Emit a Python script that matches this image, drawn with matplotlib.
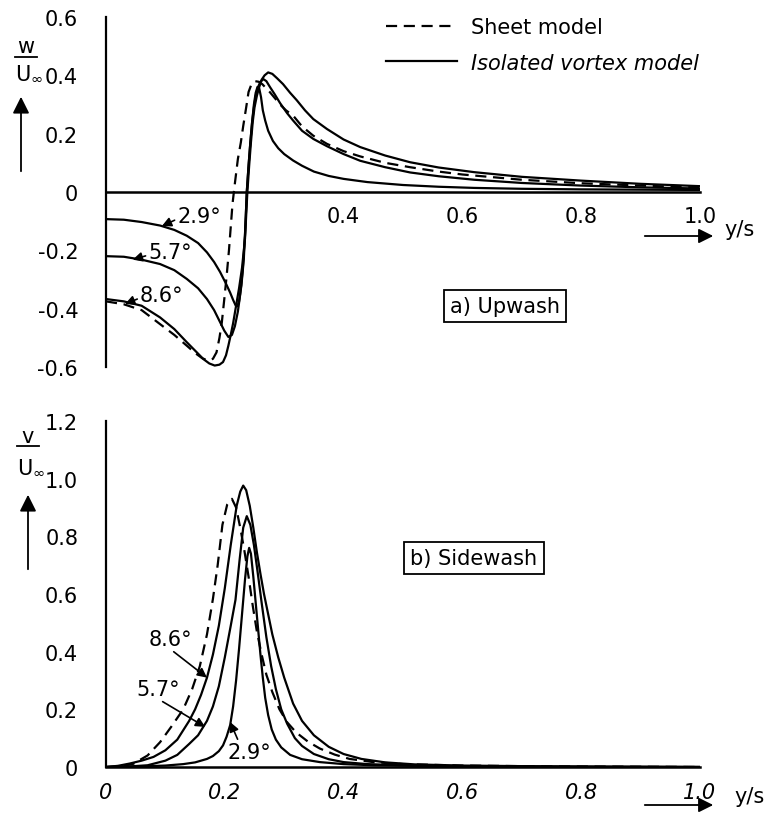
import matplotlib
matplotlib.use("Agg")
import matplotlib.pyplot as plt
from matplotlib.lines import Line2D

# ---- a) Upwash  w/U_inf vs y/s ----
up_x_29 = [0, 0.03, 0.06, 0.091, 0.115, 0.136, 0.155, 0.17, 0.182, 0.192, 0.201, 0.209, 0.214,
           0.218, 0.221, 0.224, 0.228, 0.232, 0.235, 0.237, 0.24, 0.243, 0.246, 0.249, 0.252,
           0.255, 0.258, 0.261, 0.264, 0.268, 0.273, 0.281, 0.29, 0.3, 0.315, 0.33, 0.35,
           0.375, 0.4, 0.44, 0.5, 0.56, 0.62, 0.7, 0.8, 0.9, 1.0]
up_y_29 = [-0.093, -0.095, -0.103, -0.115, -0.13, -0.15, -0.175, -0.207, -0.24, -0.274, -0.31,
           -0.345, -0.37, -0.388, -0.392, -0.375, -0.32, -0.23, -0.1, 0.0, 0.09, 0.17, 0.24,
           0.30, 0.34, 0.36, 0.355, 0.325, 0.28, 0.245, 0.21, 0.175, 0.15, 0.13, 0.108, 0.09,
           0.07, 0.055, 0.045, 0.034, 0.024, 0.018, 0.014, 0.011, 0.009, 0.008, 0.007]

up_x_57 = [0, 0.03, 0.06, 0.091, 0.115, 0.136, 0.155, 0.17, 0.182, 0.192, 0.199, 0.206, 0.212,
           0.217, 0.222, 0.226, 0.23, 0.234, 0.237, 0.24, 0.243, 0.246, 0.249, 0.252, 0.256,
           0.26, 0.265, 0.27, 0.276, 0.284, 0.293, 0.305, 0.315, 0.33, 0.349, 0.372, 0.4,
           0.428, 0.47, 0.512, 0.56, 0.62, 0.7, 0.8, 0.9, 1.0]
up_y_57 = [-0.22, -0.222, -0.232, -0.247, -0.268, -0.298, -0.33, -0.367, -0.405, -0.446, -0.475,
           -0.497, -0.49, -0.46, -0.41, -0.35, -0.27, -0.15, 0.0, 0.09, 0.17, 0.24, 0.29, 0.33,
           0.36, 0.378, 0.387, 0.38, 0.36, 0.335, 0.305, 0.27, 0.245, 0.21, 0.182, 0.157, 0.13,
           0.107, 0.085, 0.067, 0.054, 0.042, 0.031, 0.022, 0.016, 0.012]

up_x_86 = [0, 0.03, 0.06, 0.091, 0.115, 0.136, 0.152, 0.164, 0.174, 0.183, 0.191, 0.197, 0.202,
           0.206, 0.21, 0.214, 0.219, 0.224, 0.229, 0.234, 0.238, 0.241, 0.244, 0.247, 0.25,
           0.254, 0.258, 0.262, 0.267, 0.273, 0.28, 0.288, 0.298, 0.31, 0.321, 0.335, 0.349,
           0.372, 0.4, 0.428, 0.47, 0.512, 0.56, 0.62, 0.7, 0.8, 0.9, 1.0]
up_y_86 = [-0.367, -0.375, -0.39, -0.43, -0.47, -0.515, -0.548, -0.573, -0.588, -0.595, -0.592,
           -0.583, -0.56, -0.527, -0.49, -0.45, -0.39, -0.33, -0.26, -0.16, 0.0, 0.09, 0.17,
           0.24, 0.29, 0.33, 0.36, 0.385, 0.40, 0.41, 0.405, 0.39, 0.37, 0.34, 0.315, 0.28,
           0.25, 0.216, 0.18, 0.154, 0.125, 0.102, 0.084, 0.068, 0.052, 0.039, 0.028, 0.02]

up_x_sheet = [0, 0.03, 0.06, 0.091, 0.115, 0.136, 0.15, 0.162, 0.172, 0.18, 0.186, 0.191, 0.195,
              0.199, 0.203, 0.207, 0.21, 0.213, 0.217, 0.222, 0.227, 0.231, 0.236, 0.24, 0.245,
              0.251, 0.257, 0.263, 0.27, 0.276, 0.285, 0.293, 0.303, 0.315, 0.33, 0.349, 0.372,
              0.4, 0.428, 0.47, 0.512, 0.56, 0.6, 0.7, 0.8, 0.9, 1.0]
up_y_sheet = [-0.375, -0.385, -0.405, -0.453, -0.49, -0.527, -0.552, -0.57, -0.578, -0.572,
              -0.55, -0.50, -0.447, -0.37, -0.29, -0.2, -0.12, -0.04, 0.03, 0.113, 0.17, 0.226,
              0.29, 0.343, 0.37, 0.38, 0.378, 0.37, 0.355, 0.342, 0.32, 0.30, 0.28, 0.262, 0.225,
              0.193, 0.165, 0.14, 0.122, 0.1, 0.085, 0.07, 0.06, 0.042, 0.03, 0.022, 0.015]

# ---- b) Sidewash  v/U_inf vs y/s ----
sw_x_29 = [0, 0.06, 0.10, 0.13, 0.15, 0.17, 0.18, 0.19, 0.197, 0.203, 0.209, 0.214, 0.219,
           0.224, 0.229, 0.234, 0.238, 0.241, 0.244, 0.248, 0.252, 0.256, 0.26, 0.264, 0.268,
           0.273, 0.279, 0.286, 0.295, 0.31, 0.33, 0.36, 0.40, 0.45, 0.55, 0.7, 1.0]
sw_y_29 = [0, 0.002, 0.005, 0.01, 0.016, 0.028, 0.038, 0.055, 0.075, 0.105, 0.145, 0.21, 0.30,
           0.41, 0.53, 0.65, 0.73, 0.76, 0.74, 0.66, 0.57, 0.48, 0.39, 0.31, 0.24, 0.18, 0.13,
           0.095, 0.068, 0.042, 0.027, 0.017, 0.01, 0.006, 0.003, 0.001, 0.0]

sw_x_57 = [0, 0.04, 0.07, 0.10, 0.12, 0.14, 0.155, 0.17, 0.18, 0.19, 0.20, 0.21, 0.218, 0.225,
           0.231, 0.237, 0.243, 0.249, 0.255, 0.262, 0.27, 0.278, 0.286, 0.295, 0.305, 0.318,
           0.33, 0.35, 0.375, 0.40, 0.44, 0.5, 0.6, 0.75, 1.0]
sw_y_57 = [0, 0.002, 0.006, 0.022, 0.042, 0.08, 0.11, 0.16, 0.21, 0.28, 0.38, 0.49, 0.58, 0.72,
           0.83, 0.87, 0.84, 0.77, 0.68, 0.57, 0.45, 0.35, 0.27, 0.20, 0.15, 0.10, 0.073,
           0.045, 0.027, 0.017, 0.01, 0.006, 0.003, 0.001, 0.0]

sw_x_86 = [0, 0.02, 0.04, 0.06, 0.08, 0.10, 0.12, 0.14, 0.15, 0.16, 0.17, 0.18, 0.19, 0.20,
           0.21, 0.22, 0.226, 0.231, 0.236, 0.242, 0.248, 0.254, 0.26, 0.266, 0.272, 0.28,
           0.29, 0.30, 0.315, 0.33, 0.35, 0.375, 0.40, 0.43, 0.47, 0.52, 0.6, 0.7, 0.85, 1.0]
sw_y_86 = [0, 0.004, 0.012, 0.022, 0.035, 0.058, 0.095, 0.16, 0.20, 0.25, 0.31, 0.39, 0.49,
           0.62, 0.77, 0.906, 0.955, 0.976, 0.96, 0.906, 0.83, 0.745, 0.67, 0.60, 0.54, 0.46,
           0.38, 0.31, 0.22, 0.16, 0.11, 0.07, 0.045, 0.028, 0.016, 0.009, 0.005, 0.003,
           0.001, 0.0]

sw_x_sheet = [0, 0.02, 0.045, 0.07, 0.091, 0.11, 0.13, 0.145, 0.158, 0.17, 0.18, 0.188, 0.196,
              0.204, 0.212, 0.219, 0.226, 0.233, 0.24, 0.247, 0.254, 0.262, 0.27, 0.28, 0.292,
              0.305, 0.32, 0.34, 0.36, 0.385, 0.41, 0.45, 0.5, 0.6, 0.75, 1.0]
sw_y_sheet = [0, 0.002, 0.01, 0.04, 0.086, 0.14, 0.20, 0.27, 0.35, 0.46, 0.583, 0.70, 0.84,
              0.91, 0.93, 0.90, 0.83, 0.75, 0.66, 0.56, 0.47, 0.39, 0.32, 0.26, 0.20, 0.155,
              0.12, 0.088, 0.064, 0.043, 0.028, 0.017, 0.01, 0.005, 0.002, 0.0]

up_yticks = [-0.6, -0.4, -0.2, 0, 0.2, 0.4, 0.6]
up_yticklabels = ["-0.6", "-0.4", "-0.2", "0", "0.2", "0.4", "0.6"]
up_xticks = [0.4, 0.6, 0.8, 1.0]
up_xticklabels = ["0.4", "0.6", "0.8", "1.0"]
sw_yticks = [0, 0.2, 0.4, 0.6, 0.8, 1.0, 1.2]
sw_yticklabels = ["0", "0.2", "0.4", "0.6", "0.8", "1.0", "1.2"]
sw_xticks = [0, 0.2, 0.4, 0.6, 0.8, 1.0]
sw_xticklabels = ["0", "0.2", "0.4", "0.6", "0.8", "1.0"]

# (label, text pos, arrow tip) in data coords
up_labels = [("2.9°", (0.157, -0.082), (0.094, -0.117)),
             ("5.7°", (0.108, -0.206), (0.045, -0.232)),
             ("8.6°", (0.094, -0.353), (0.032, -0.384))]
sw_labels = [("8.6°", (0.108, 0.444), (0.17, 0.31)),
             ("5.7°", (0.0875, 0.271), (0.167, 0.139)),
             ("2.9°", (0.242, 0.052), (0.209, 0.156))]

W, H = 772, 820
fs = 15
lw = 1.6
dash = (0, (5, 3))

fig = plt.figure(figsize=(W / 100, H / 100), dpi=100)
ax1 = fig.add_axes([106 / W, 1 - 368 / H, 594 / W, 350 / H])
ax2 = fig.add_axes([106 / W, 1 - 768 / H, 594 / W, 346 / H])

for ax in (ax1, ax2):
    ax.spines["top"].set_visible(False)
    ax.spines["right"].set_visible(False)
    ax.spines["left"].set_linewidth(1.6)
    ax.spines["bottom"].set_linewidth(1.8)
    ax.set_xlim(0, 1.0)
    ax.patch.set_alpha(0)

# top panel
ax1.set_ylim(-0.6, 0.6)
ax1.spines["bottom"].set_position(("data", 0))
ln_sheet, = ax1.plot(up_x_sheet, up_y_sheet, color="k", lw=lw, ls=dash)
ln_vortex, = ax1.plot(up_x_29, up_y_29, color="k", lw=lw)
ax1.plot(up_x_57, up_y_57, color="k", lw=lw)
ax1.plot(up_x_86, up_y_86, color="k", lw=lw)
ax1.set_yticks(up_yticks)
ax1.set_yticklabels(up_yticklabels, fontsize=fs)
ax1.set_xticks(up_xticks)
ax1.set_xticklabels(up_xticklabels, fontsize=fs)
ax1.tick_params(axis="y", length=0, pad=20)
ax1.tick_params(axis="x", length=0, pad=10)

# bottom panel
ax2.set_ylim(0, 1.2)
ax2.plot(sw_x_sheet, sw_y_sheet, color="k", lw=lw, ls=dash)
ax2.plot(sw_x_29, sw_y_29, color="k", lw=lw)
ax2.plot(sw_x_57, sw_y_57, color="k", lw=lw)
ax2.plot(sw_x_86, sw_y_86, color="k", lw=lw)
ax2.set_yticks(sw_yticks)
ax2.set_yticklabels(sw_yticklabels, fontsize=fs)
ax2.set_xticks(sw_xticks)
ax2.set_xticklabels(sw_xticklabels, fontsize=fs, style="italic")
ax2.tick_params(axis="y", length=0, pad=20)
ax2.tick_params(axis="x", length=0, pad=11)

arrow_kw = dict(arrowstyle="-|>", color="k", lw=1.2, mutation_scale=14, shrinkA=0, shrinkB=0)
for txt, pos, tip in up_labels:
    ax1.annotate(txt, xy=tip, xytext=pos, fontsize=fs, ha="center", va="center",
                 arrowprops=dict(arrow_kw, relpos=(0.0, 0.35)))
for txt, pos, tip in sw_labels:
    rel = (0.5, 0.0) if txt != "2.9°" else (0.25, 1.0)
    ax2.annotate(txt, xy=tip, xytext=pos, fontsize=fs, ha="center", va="center",
                 arrowprops=dict(arrow_kw, relpos=rel))

# panel titles
box = dict(boxstyle="square,pad=0.3", fc="white", ec="k", lw=1.3)
fig.text(505 / W, 1 - 307 / H, "a) Upwash", fontsize=fs, ha="center", va="center", bbox=box)
fig.text(474 / W, 1 - 559 / H, "b) Sidewash", fontsize=fs, ha="center", va="center", bbox=box)

# legend
leg = ax1.legend([ln_sheet, ln_vortex], ["Sheet model", "Isolated vortex model"],
                 loc="upper left", bbox_to_anchor=(386 / W, 1 - 18 / H),
                 bbox_transform=fig.transFigure, frameon=False, fontsize=fs,
                 handlelength=3.4, handletextpad=0.7, labelspacing=0.75,
                 borderpad=0, borderaxespad=0)
leg.get_texts()[1].set_style("italic")

# y-axis fraction labels with arrows
ax1.annotate("", xy=(21, H - 95), xytext=(21, H - 175), xycoords="figure pixels",
             textcoords="figure pixels",
             arrowprops=dict(arrowstyle="-|>", color="k", lw=1.3, mutation_scale=25))
ax2.annotate("", xy=(28, H - 493), xytext=(28, H - 573), xycoords="figure pixels",
             textcoords="figure pixels",
             arrowprops=dict(arrowstyle="-|>", color="k", lw=1.3, mutation_scale=25))
for num, yn, yb, yd, xc in [("w", 47, 58, 73, 26), ("v", 437, 447, 467, 28)]:
    fig.text(xc / W, 1 - yn / H, num, fontsize=fs, ha="center", va="center")
    fig.add_artist(Line2D([(xc - 11) / W, (xc + 11) / W], [1 - yb / H] * 2, color="k", lw=1.3))
    fig.text((xc + 3) / W, 1 - yd / H, r"U$_{\infty}$", fontsize=fs, ha="center", va="center")

# x-axis arrows "y/s"
for y_arr, y_txt, x_txt in [(237, 230, 740), (806, 797, 750)]:
    ax1.annotate("", xy=(716, H - y_arr), xytext=(642, H - y_arr), xycoords="figure pixels",
                 textcoords="figure pixels",
                 arrowprops=dict(arrowstyle="-|>", color="k", lw=1.3, mutation_scale=22))
    fig.text(x_txt / W, 1 - y_txt / H, "y/s", fontsize=fs, ha="center", va="center")

fig.savefig("out.png", dpi=100, facecolor="white")
